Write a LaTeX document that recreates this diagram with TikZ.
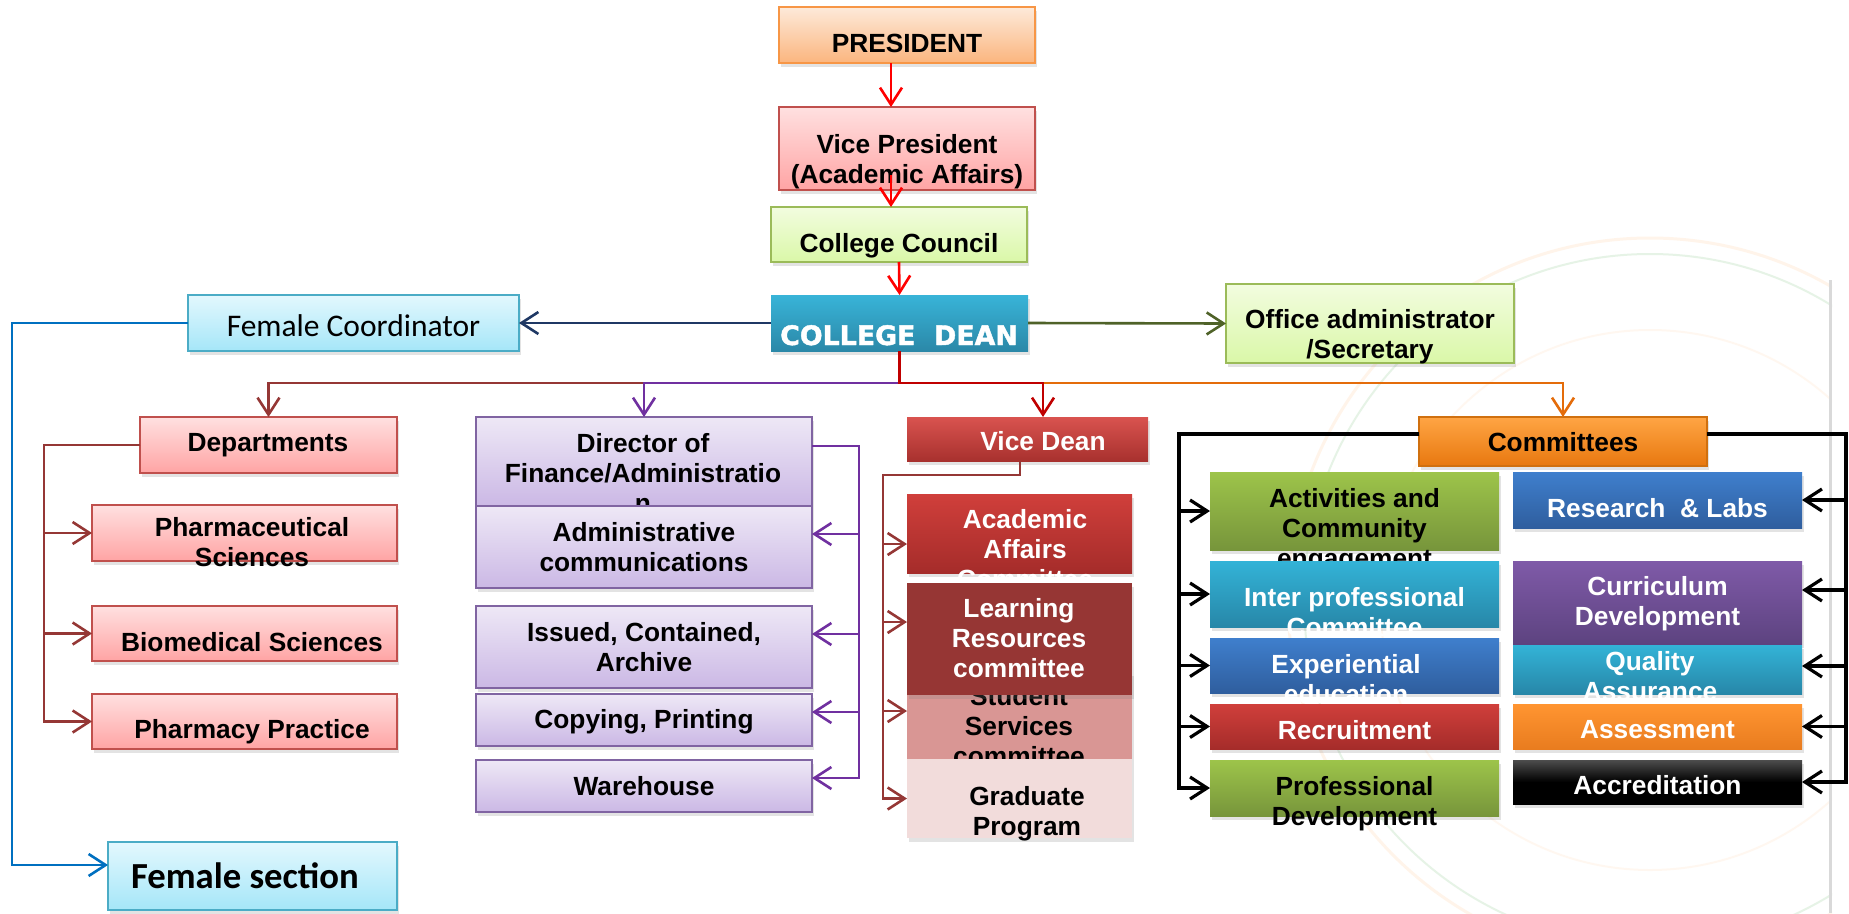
\documentclass[tikz,border=0pt]{standalone}
\usepackage{fontspec}
\setmainfont{Liberation Sans}
\newfontfamily\calfont{Carlito}
\newfontfamily\deanfont[BoldFeatures={FakeBold=1.6}]{DejaVu Sans}
\usetikzlibrary{arrows.meta,shadows}
\definecolor{presTop}{HTML}{FDEADA}\definecolor{presBot}{HTML}{FBB57E}\definecolor{presBor}{HTML}{F79646}
\definecolor{pinkTop}{HTML}{FFE0E0}\definecolor{pinkBot}{HTML}{FFA4A4}\definecolor{pinkBor}{HTML}{C0504D}
\definecolor{lgTop}{HTML}{F2FCDF}\definecolor{lgBot}{HTML}{DAF8A8}\definecolor{lgBor}{HTML}{9BBB59}
\definecolor{deanTop}{HTML}{38B4D8}\definecolor{deanBot}{HTML}{2B88A8}
\definecolor{fcTop}{HTML}{E3F8FE}\definecolor{fcBot}{HTML}{A5E6F8}\definecolor{fcBor}{HTML}{4BACC6}
\definecolor{dirTop}{HTML}{EEE8F6}\definecolor{dirBot}{HTML}{CBB8E5}\definecolor{dirBor}{HTML}{8064A2}
\definecolor{vdTop}{HTML}{D9534F}\definecolor{vdBot}{HTML}{A8312E}
\definecolor{redTop}{HTML}{D03F3B}\definecolor{redBot}{HTML}{A52C2A}
\definecolor{lrCol}{HTML}{963634}\definecolor{ssCol}{HTML}{D99694}\definecolor{gpCol}{HTML}{F2DCDB}
\definecolor{comTop}{HTML}{FFA544}\definecolor{comBot}{HTML}{E8780F}\definecolor{comBor}{HTML}{D0700F}
\definecolor{grTop}{HTML}{9DC44A}\definecolor{grBot}{HTML}{77953B}
\definecolor{blTop}{HTML}{3F7FCD}\definecolor{blBot}{HTML}{2F5E9E}
\definecolor{tlTop}{HTML}{33B3D7}\definecolor{tlBot}{HTML}{2787A8}
\definecolor{puTop}{HTML}{7F5AA8}\definecolor{puBot}{HTML}{5D4380}
\definecolor{orTop}{HTML}{FF9531}\definecolor{orBot}{HTML}{E97C1F}
\definecolor{lnRed}{HTML}{FF0000}\definecolor{lnNavy}{HTML}{1F3864}\definecolor{lnOlive}{HTML}{4F6228}
\definecolor{lnBlue}{HTML}{0070C0}\definecolor{lnBrown}{HTML}{953735}\definecolor{lnPurple}{HTML}{7030A0}
\definecolor{lnDark}{HTML}{C00000}\definecolor{lnOrange}{HTML}{E46C0A}
\newcommand{\ml}[1]{\parbox[t]{420pt}{\centering #1}}
\tikzset{
  box/.style={rectangle, inner sep=0pt, outer sep=0pt, line width=1.3pt,
    drop shadow={shadow xshift=2pt,shadow yshift=-4pt,opacity=0.22}},
  txt/.style={inner sep=0pt, anchor=base, font=\fontsize{26.3}{30}\selectfont\bfseries},
  ln/.style={line width=2.6pt, -{Straight Barb[length=17pt,width=22pt]}},
  blk/.style={line width=3.2pt, black, -{Straight Barb[length=17pt,width=22pt]}},
}
\begin{document}
\begin{tikzpicture}[x=1pt,y=-1pt]
\useasboundingbox (0,0) rectangle (1849,913);
\fill[white] (0,0) rectangle (1849,913);
% faint watermark
\begin{scope}
\clip (1180,235) rectangle (1832,913);
\draw[orange!45, opacity=0.18, line width=3pt] (1650,600) circle[radius=362pt];
\draw[green!35!gray, opacity=0.14, line width=2pt] (1650,600) circle[radius=346pt];
\draw[orange!40, opacity=0.14, line width=2pt] (1650,600) circle[radius=270pt];
\end{scope}
\draw[gray!30, line width=3pt] (1830,280) -- (1830,913);

% top chain
\node[box, draw=presBor, top color=presTop, bottom color=presBot, minimum width=256pt, minimum height=56pt] (PRES) at (907,35) {};
\node[txt] (PRESt) at (907,52) {\ml{PRESIDENT}};
\node[box, draw=pinkBor, top color=pinkTop, bottom color=pinkBot, minimum width=256pt, minimum height=83pt] (VP) at (907,148.5) {};
\node[txt] (VPt) at (907,153) {\ml{Vice President\\(Academic Affairs)}};
\node[box, draw=lgBor, top color=lgTop, bottom color=lgBot, minimum width=256pt, minimum height=55pt] (CC) at (899,234.5) {};
\node[txt] (CCt) at (899,252) {\ml{College Council}};
\node[box, top color=deanTop, bottom color=deanBot, minimum width=257pt, minimum height=56pt] (Dean) at (899.5,323) {};
\node[txt, text=white, font=\deanfont\fontsize{26.8}{30}\selectfont\bfseries] (Deant) at (899,345) {COLLEGE\ \ DEAN};
\node[box, draw=fcBor, top color=fcTop, bottom color=fcBot, minimum width=331pt, minimum height=56pt] (FC) at (353.5,323) {};
\node[txt, font=\calfont\fontsize{31.5}{36}\selectfont] (FCt) at (353.5,336) {Female Coordinator};
\node[box, draw=lgBor, top color=lgTop, bottom color=lgBot, minimum width=288pt, minimum height=79pt] (OA) at (1370,323.5) {};
\node[txt] (OAt) at (1370,328) {\ml{Office administrator\\/Secretary}};

% departments
\node[box, draw=pinkBor, top color=pinkTop, bottom color=pinkBot, minimum width=257pt, minimum height=56pt] (Dep) at (268.5,445) {};
\node[txt] (Dept) at (268,451) {\ml{Departments}};
\node[box, draw=pinkBor, top color=pinkTop, bottom color=pinkBot, minimum width=305pt, minimum height=56pt] (PS) at (244.5,533) {};
\node[txt] (PSt) at (252,536) {\ml{Pharmaceutical\\Sciences}};
\node[box, draw=pinkBor, top color=pinkTop, bottom color=pinkBot, minimum width=305pt, minimum height=55pt] (BS) at (244.5,633.5) {};
\node[txt] (BSt) at (252,651) {\ml{Biomedical Sciences}};
\node[box, draw=pinkBor, top color=pinkTop, bottom color=pinkBot, minimum width=305pt, minimum height=55pt] (PP) at (244.5,721.5) {};
\node[txt] (PPt) at (252,738) {\ml{Pharmacy Practice}};
\node[box, draw=fcBor, top color=fcTop, bottom color=fcBot, minimum width=289pt, minimum height=68pt] (FS) at (252.5,876) {};
\node[txt, font=\calfont\fontsize{36.7}{40}\selectfont\bfseries] (FSt) at (245,888) {Female section};

% director stack
\node[box, draw=dirBor, top color=dirTop, bottom color=dirBot, minimum width=336pt, minimum height=89pt] (Dir) at (644,461.5) {};
\node[txt] (Dirt) at (643,452) {\ml{Director of\\Finance/Administratio\\n}};
\node[box, draw=dirBor, top color=dirTop, bottom color=dirBot, minimum width=336pt, minimum height=82pt] (AC) at (644,547) {};
\node[txt] (ACt) at (644,541) {\ml{Administrative\\communications}};
\node[box, draw=dirBor, top color=dirTop, bottom color=dirBot, minimum width=336pt, minimum height=82pt] (IC) at (644,647) {};
\node[txt] (ICt) at (644,641) {\ml{Issued, Contained,\\Archive}};
\node[box, draw=dirBor, top color=dirTop, bottom color=dirBot, minimum width=336pt, minimum height=52pt] (CP) at (644,720) {};
\node[txt] (CPt) at (644,728) {\ml{Copying, Printing}};
\node[box, draw=dirBor, top color=dirTop, bottom color=dirBot, minimum width=336pt, minimum height=52pt] (WH) at (644,786) {};
\node[txt] (WHt) at (644,795) {\ml{Warehouse}};

% vice dean stack
\node[box, top color=vdTop, bottom color=vdBot, minimum width=241pt, minimum height=44pt] (VD) at (1027.5,439) {};
\node[txt, text=white] (VDt) at (1043,450) {\ml{Vice Dean}};
\node[box, top color=redTop, bottom color=redBot, minimum width=225pt, minimum height=79pt] (AAC) at (1019.5,533.5) {};
\node[txt, text=white] (AACt) at (1025,528) {\ml{Academic\\Affairs\\Committee}};
\node[box, fill=ssCol, minimum width=225pt, minimum height=87pt] (SS) at (1019.5,715.5) {};
\node[txt] (SSt) at (1019,705) {\ml{Student\\Services\\committee}};
\node[box, fill=lrCol, minimum width=225pt, minimum height=112pt] (LR) at (1019.5,639) {};
\node[txt, text=white] (LRt) at (1019,617) {\ml{Learning\\Resources\\committee}};
\node[box, fill=gpCol, minimum width=225pt, minimum height=79pt] (GP) at (1019.5,798.5) {};
\node[txt] (GPt) at (1027,805) {\ml{Graduate\\Program}};

% committees
\node[box, draw=comBor, top color=comTop, bottom color=comBot, minimum width=288pt, minimum height=49pt] (Com) at (1563,441.5) {};
\node[txt] (Comt) at (1563,451) {\ml{Committees}};
\node[box, top color=grTop, bottom color=grBot, minimum width=289pt, minimum height=78pt] (ACE) at (1354.5,511) {};
\node[txt] (ACEt) at (1354.5,507) {\ml{Activities and\\Community\\engagement}};
\node[box, top color=blTop, bottom color=blBot, minimum width=289pt, minimum height=56pt] (RL) at (1657.5,500) {};
\node[txt, text=white] (RLt) at (1657.5,517) {\ml{Research\ \ \& Labs}};
\node[box, top color=tlTop, bottom color=tlBot, minimum width=289pt, minimum height=66pt] (IPC) at (1354.5,594) {};
\node[txt, text=white] (IPCt) at (1354.5,606) {\ml{Inter professional\\Committee}};
\node[box, top color=puTop, bottom color=puBot, minimum width=289pt, minimum height=83pt] (CD) at (1657.5,602.5) {};
\node[txt, text=white] (CDt) at (1657.5,595) {\ml{Curriculum\\Development}};
\node[box, top color=blTop, bottom color=blBot, minimum width=289pt, minimum height=55pt] (EE) at (1354.5,665.5) {};
\node[txt, text=white] (EEt) at (1346,673) {\ml{Experiential\\education}};
\node[box, top color=tlTop, bottom color=tlBot, minimum width=289pt, minimum height=49pt] (QA) at (1657.5,669.5) {};
\node[txt, text=white] (QAt) at (1650,670) {\ml{Quality\\Assurance}};
\node[box, top color=redTop, bottom color=redBot, minimum width=289pt, minimum height=45pt] (REC) at (1354.5,726.5) {};
\node[txt, text=white] (RECt) at (1354.5,739) {\ml{Recruitment}};
\node[box, top color=orTop, bottom color=orBot, minimum width=289pt, minimum height=45pt] (ASM) at (1657.5,726.5) {};
\node[txt, text=white] (ASMt) at (1657.5,738) {\ml{Assessment}};
\node[box, top color=grTop, bottom color=grBot, minimum width=289pt, minimum height=56pt] (PD) at (1354.5,788) {};
\node[txt] (PDt) at (1354.5,795) {\ml{Professional\\Development}};
\node[box, top color=black!70, bottom color=black, middle color=black, minimum width=289pt, minimum height=44pt] (ACR) at (1657.5,782) {};
\node[txt, text=white] (ACRt) at (1657.5,794) {\ml{Accreditation}};

% connectors
\coordinate (bus) at (0,383);
\draw[ln, lnRed] ([xshift=-16pt]PRES.south) -- ([xshift=-16pt]VP.north);
\draw[ln, lnRed] ([xshift=-16pt,yshift=15pt]VP.south) -- ([xshift=-8pt]CC.north);
\draw[ln, lnRed] (CC.south) -- (Dean.north);
\draw[ln, lnNavy] (Dean.west) -- (FC.east);
\draw[ln, lnOlive] (Dean.east) -- (OA.west);
\draw[ln, lnBlue] (FC.west) -- ++(-176,0) |- ([yshift=11pt]FS.west);

\draw[ln, lnBrown] (Dean.south) -- (Dean.south |- bus) -| (Dep.north);
\draw[ln, lnOrange] (Dean.south) -- (Dean.south |- bus) -| (Com.north);
\draw[ln, lnPurple] (Dean.south) -- (Dean.south |- bus) -| (Dir.north);
\draw[ln, lnDark] (Dean.south) -- (Dean.south |- bus) -| ([xshift=15.5pt]VD.north);

\draw[ln, lnBrown] (Dep.west) -- ++(-96,0) |- (PS.west);
\draw[ln, lnBrown] (Dep.west) -- ++(-96,0) |- (BS.west);
\draw[ln, lnBrown] (Dep.west) -- ++(-96,0) |- (PP.west);

\coordinate (dirJ) at (859,446);
\draw[ln, lnPurple] (Dir.east |- dirJ) -- (dirJ) |- ([yshift=13pt]AC.east);
\draw[ln, lnPurple] (Dir.east |- dirJ) -- (dirJ) |- ([yshift=13pt]IC.east);
\draw[ln, lnPurple] (Dir.east |- dirJ) -- (dirJ) |- ([yshift=8pt]CP.east);
\draw[ln, lnPurple] (Dir.east |- dirJ) -- (dirJ) |- ([yshift=8pt]WH.east);

\coordinate (vdJ) at (883,475);
\draw[ln, lnBrown] ([xshift=-7.5pt]VD.south) |- (vdJ) |- ([yshift=-10.5pt]AAC.west);
\draw[ln, lnBrown] ([xshift=-7.5pt]VD.south) |- (vdJ) |- ([yshift=17pt]LR.west);
\draw[ln, lnBrown] ([xshift=-7.5pt]VD.south) |- (vdJ) |- ([yshift=4.5pt]SS.west);
\draw[ln, lnBrown] ([xshift=-7.5pt]VD.south) |- (vdJ) |- (GP.west);

\coordinate (cL) at (1179,434);
\coordinate (cR) at (1846,434);
\draw[blk] ([yshift=7.5pt]Com.west) -- (cL) |- (ACE.west);
\draw[blk] ([yshift=7.5pt]Com.west) -- (cL) |- (IPC.west);
\draw[blk] ([yshift=7.5pt]Com.west) -- (cL) |- (EE.west);
\draw[blk] ([yshift=7.5pt]Com.west) -- (cL) |- (REC.west);
\draw[blk] ([yshift=7.5pt]Com.west) -- (cL) |- (PD.west);
\draw[blk] ([yshift=7.5pt]Com.east) -- (cR) |- (RL.east);
\draw[blk] ([yshift=7.5pt]Com.east) -- (cR) |- ([yshift=12.5pt]CD.east);
\draw[blk] ([yshift=7.5pt]Com.east) -- (cR) |- ([yshift=3.5pt]QA.east);
\draw[blk] ([yshift=7.5pt]Com.east) -- (cR) |- (ASM.east);
\draw[blk] ([yshift=7.5pt]Com.east) -- (cR) |- (ACR.east);
\end{tikzpicture}
\end{document}
